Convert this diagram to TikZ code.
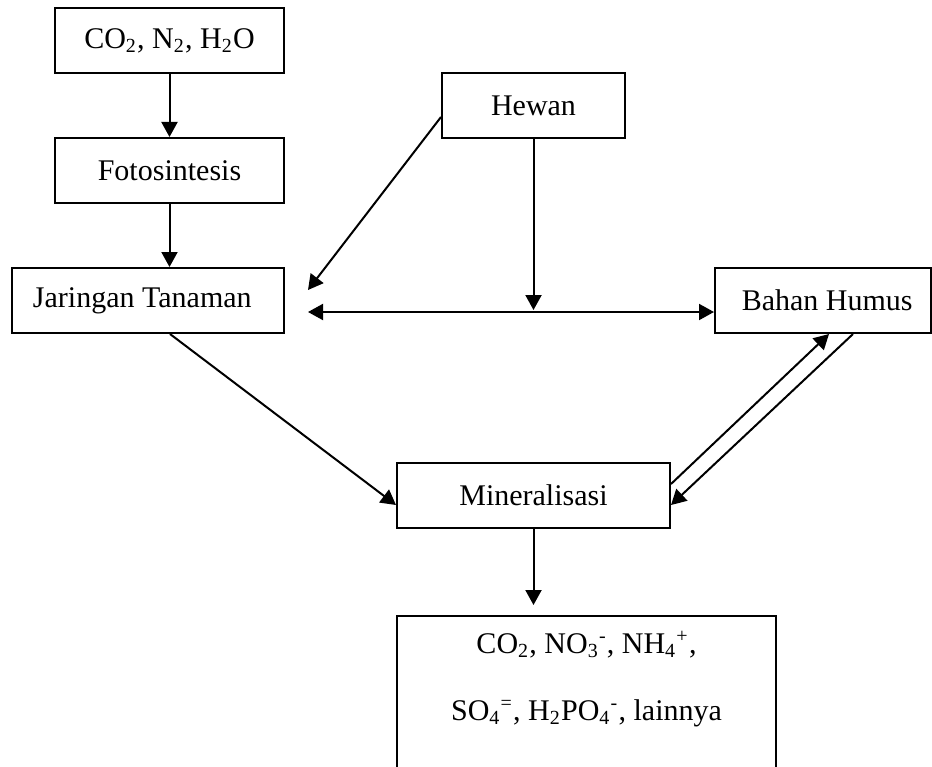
\documentclass[tikz,border=0pt]{standalone}
\usepackage{fontspec}
\setmainfont{Liberation Serif}
\usetikzlibrary{arrows.meta,calc}
\tikzset{
  box/.style={draw, line width=0.8pt, minimum height=26pt, inner sep=0pt, font=\fontsize{12pt}{14.4pt}\selectfont},
  arr/.style={line width=0.8pt, -{Triangle[length=6pt,width=6.4pt]}},
  txt/.style={font=\fontsize{12pt}{14.4pt}\selectfont, inner sep=0pt, anchor=base}
}
\begin{document}
\begin{tikzpicture}[x=0.4pt,y=-0.4pt]
        \clip (0,0) rectangle (932,766);
        \node[box, minimum width=91.6pt] (co2) at (169.5,40.5) {CO\textsubscript{2}, N\textsubscript{2}, H\textsubscript{2}O};
        \node[box, minimum width=91.6pt] (foto) at (169.5,170.5) {Fotosintesis};
        \node[box, minimum width=108.8pt, inner xsep=8.4pt] (jaringan) at (148,300.5) {\makebox[92pt][l]{Jaringan Tanaman}};
        \node[box, minimum width=73.2pt] (hewan) at (533.5,105.5) {Hewan};
        \node[box, minimum width=86.4pt, inner xsep=8.2pt] (humus) at (823,300.5) {\makebox[70pt][l]{\hspace{2.5pt}Bahan Humus}};
        \node[box, minimum width=109.2pt] (mineral) at (533.5,495.5) {Mineralisasi};
        \node[box, minimum width=151.6pt, minimum height=80pt, anchor=north] (hasil) at (586.5,615) {};
        \node[txt] (hasil1) at (586.5,653) {CO\textsubscript{2}, NO\textsubscript{3}\textsuperscript{-}, NH\textsubscript{4}\textsuperscript{+},};
        \node[txt] (hasil2) at (586.5,720) {SO\textsubscript{4}\textsuperscript{=}, H\textsubscript{2}PO\textsubscript{4}\textsuperscript{-}, lainnya};
        % ujung panah bebas
        \coordinate (jtip) at ($(jaringan.east)+(23,-10.5)$);
        \coordinate (jleft) at ($(jaringan.east)+(23,11.5)$);
        \coordinate (hright) at ($(humus.west)+(0,11.5)$);
        \draw[arr] (co2.south) -- (foto.north);
        \draw[arr] (foto.south) -- (foto.south |- jaringan.north);
        \draw[arr] ($(hewan.west)+(0,11.5)$) -- (jtip);
        \draw[arr, {Triangle[length=6pt,width=6.4pt]}-{Triangle[length=6pt,width=6.4pt]}] (jleft) -- (hright);
        \draw[arr, shorten >=0.8pt] (hewan.south) -- (hewan.south |- jleft);
        \draw[arr] ($(jaringan.south)+(22,0)$) -- ($(mineral.west)+(0,9.5)$);
        \draw[arr] ($(mineral.east)+(0,-11.5)$) -- ($(humus.south)+(6,0)$);
        \draw[arr] ($(humus.south)+(30,0)$) -- ($(mineral.east)+(0,9.5)$);
        \draw[arr, shorten >=4pt] (mineral.south) -- (mineral.south |- hasil.north);
\end{tikzpicture}
\end{document}
